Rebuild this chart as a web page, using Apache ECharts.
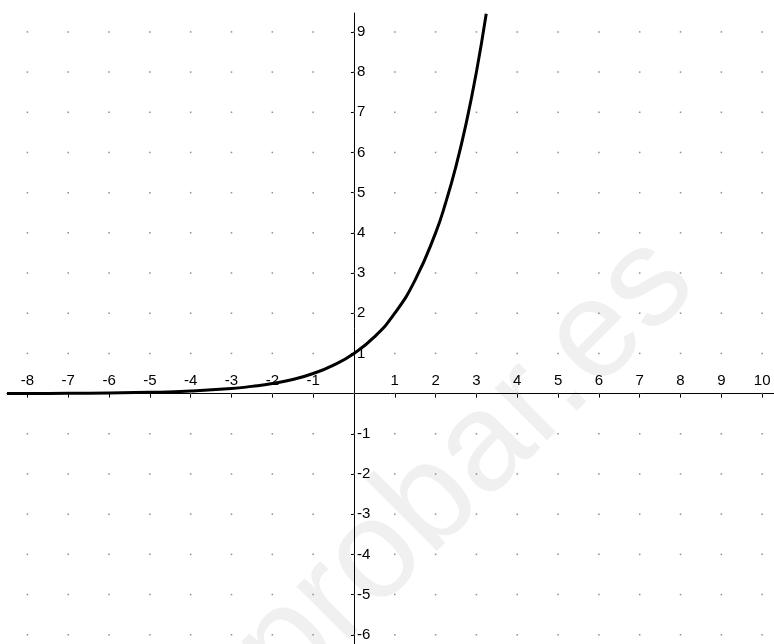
<!DOCTYPE html>
<html>
<head>
<meta charset="utf-8">
<script src="https://cdn.jsdelivr.net/npm/echarts@6/dist/echarts.min.js"></script>
<style>
  html, body { margin: 0; padding: 0; background: #fff; }
  #chart { width: 774px; height: 644px; }
</style>
</head>
<body>
<div id="chart"></div>
<script>
  // curve points
  var curveX = [-8.5, -8, -7, -6, -5, -4, -3, -2.5, -2, -1.5, -1, -0.5, 0, 0.5, 1, 1.5, 2, 2.25, 2.5, 2.75, 3, 3.24];
  var curveY = [0.003, 0.004, 0.008, 0.016, 0.031, 0.063, 0.125, 0.18, 0.25, 0.35, 0.5, 0.71, 1, 1.41, 2, 2.83, 4, 4.76, 5.66, 6.73, 8, 9.45];

  // tick values and labels
  var xTicks = [-8, -7, -6, -5, -4, -3, -2, -1, 0, 1, 2, 3, 4, 5, 6, 7, 8, 9, 10];
  var xLabels = [-8, -7, -6, -5, -4, -3, -2, -1, 1, 2, 3, 4, 5, 6, 7, 8, 9, 10];
  var yTicks = [-6, -5, -4, -3, -2, -1, 0, 1, 2, 3, 4, 5, 6, 7, 8, 9];
  var yLabels = [-6, -5, -4, -3, -2, -1, 1, 2, 3, 4, 5, 6, 7, 8, 9];

  var chart = echarts.init(document.getElementById('chart'));

  var dots = [];
  xTicks.forEach(function (x) {
    yTicks.forEach(function (y) {
      dots.push([x, y]);
    });
  });

  var labelFont = {
    color: '#000',
    fontFamily: 'Liberation Sans, Arial, sans-serif',
    fontSize: 15
  };

  var option = {
    animation: false,
    backgroundColor: '#fff',
    grid: {
      left: 7,
      right: 0,
      top: 13,
      bottom: 0,
      containLabel: false
    },
    graphic: [{
      type: 'text',
      x: 722,
      y: 310,
      rotation: Math.PI / 4,
      z: -10,
      silent: true,
      style: {
        text: 'comprobar.es',
        align: 'right',
        verticalAlign: 'bottom',
        fill: '#f0f0f0',
        font: '140px "Liberation Sans", Arial, sans-serif'
      }
    }],
    xAxis: {
      type: 'value',
      min: -8.5,
      max: 10.29,
      position: 'bottom',
      axisLine: { onZero: false, lineStyle: { color: '#000', width: 1 } },
      axisTick: { show: true, length: 4, customValues: xTicks, lineStyle: { color: '#000' } },
      axisLabel: Object.assign({ inside: true, margin: 5, customValues: xLabels }, labelFont),
      splitLine: { show: false }
    },
    yAxis: {
      type: 'value',
      min: -6.23,
      max: 9.47,
      position: 'left',
      axisLine: { onZero: false, lineStyle: { color: '#000', width: 1 } },
      axisTick: { show: true, length: 3, customValues: yTicks, lineStyle: { color: '#000' } },
      axisLabel: Object.assign({ inside: true, margin: 3, customValues: yLabels }, labelFont),
      splitLine: { show: false }
    },
    series: [{
      type: 'scatter',
      data: dots,
      symbol: 'rect',
      symbolSize: 1.5,
      itemStyle: { color: '#707070' },
      silent: true,
      z: 1
    }, {
      type: 'line',
      data: curveX.map(function (x, i) { return [x, curveY[i]]; }),
      smooth: true,
      showSymbol: false,
      clip: true,
      lineStyle: { color: '#000', width: 3 },
      z: 3
    }]
  };

  chart.setOption(option);

  // move both axes onto the origin
  var origin = chart.convertToPixel({ gridIndex: 0 }, [0, 0]);
  chart.setOption({
    xAxis: { offset: -(644 - origin[1]) },
    yAxis: { offset: -(origin[0] - 7) }
  });
</script>
</body>
</html>
